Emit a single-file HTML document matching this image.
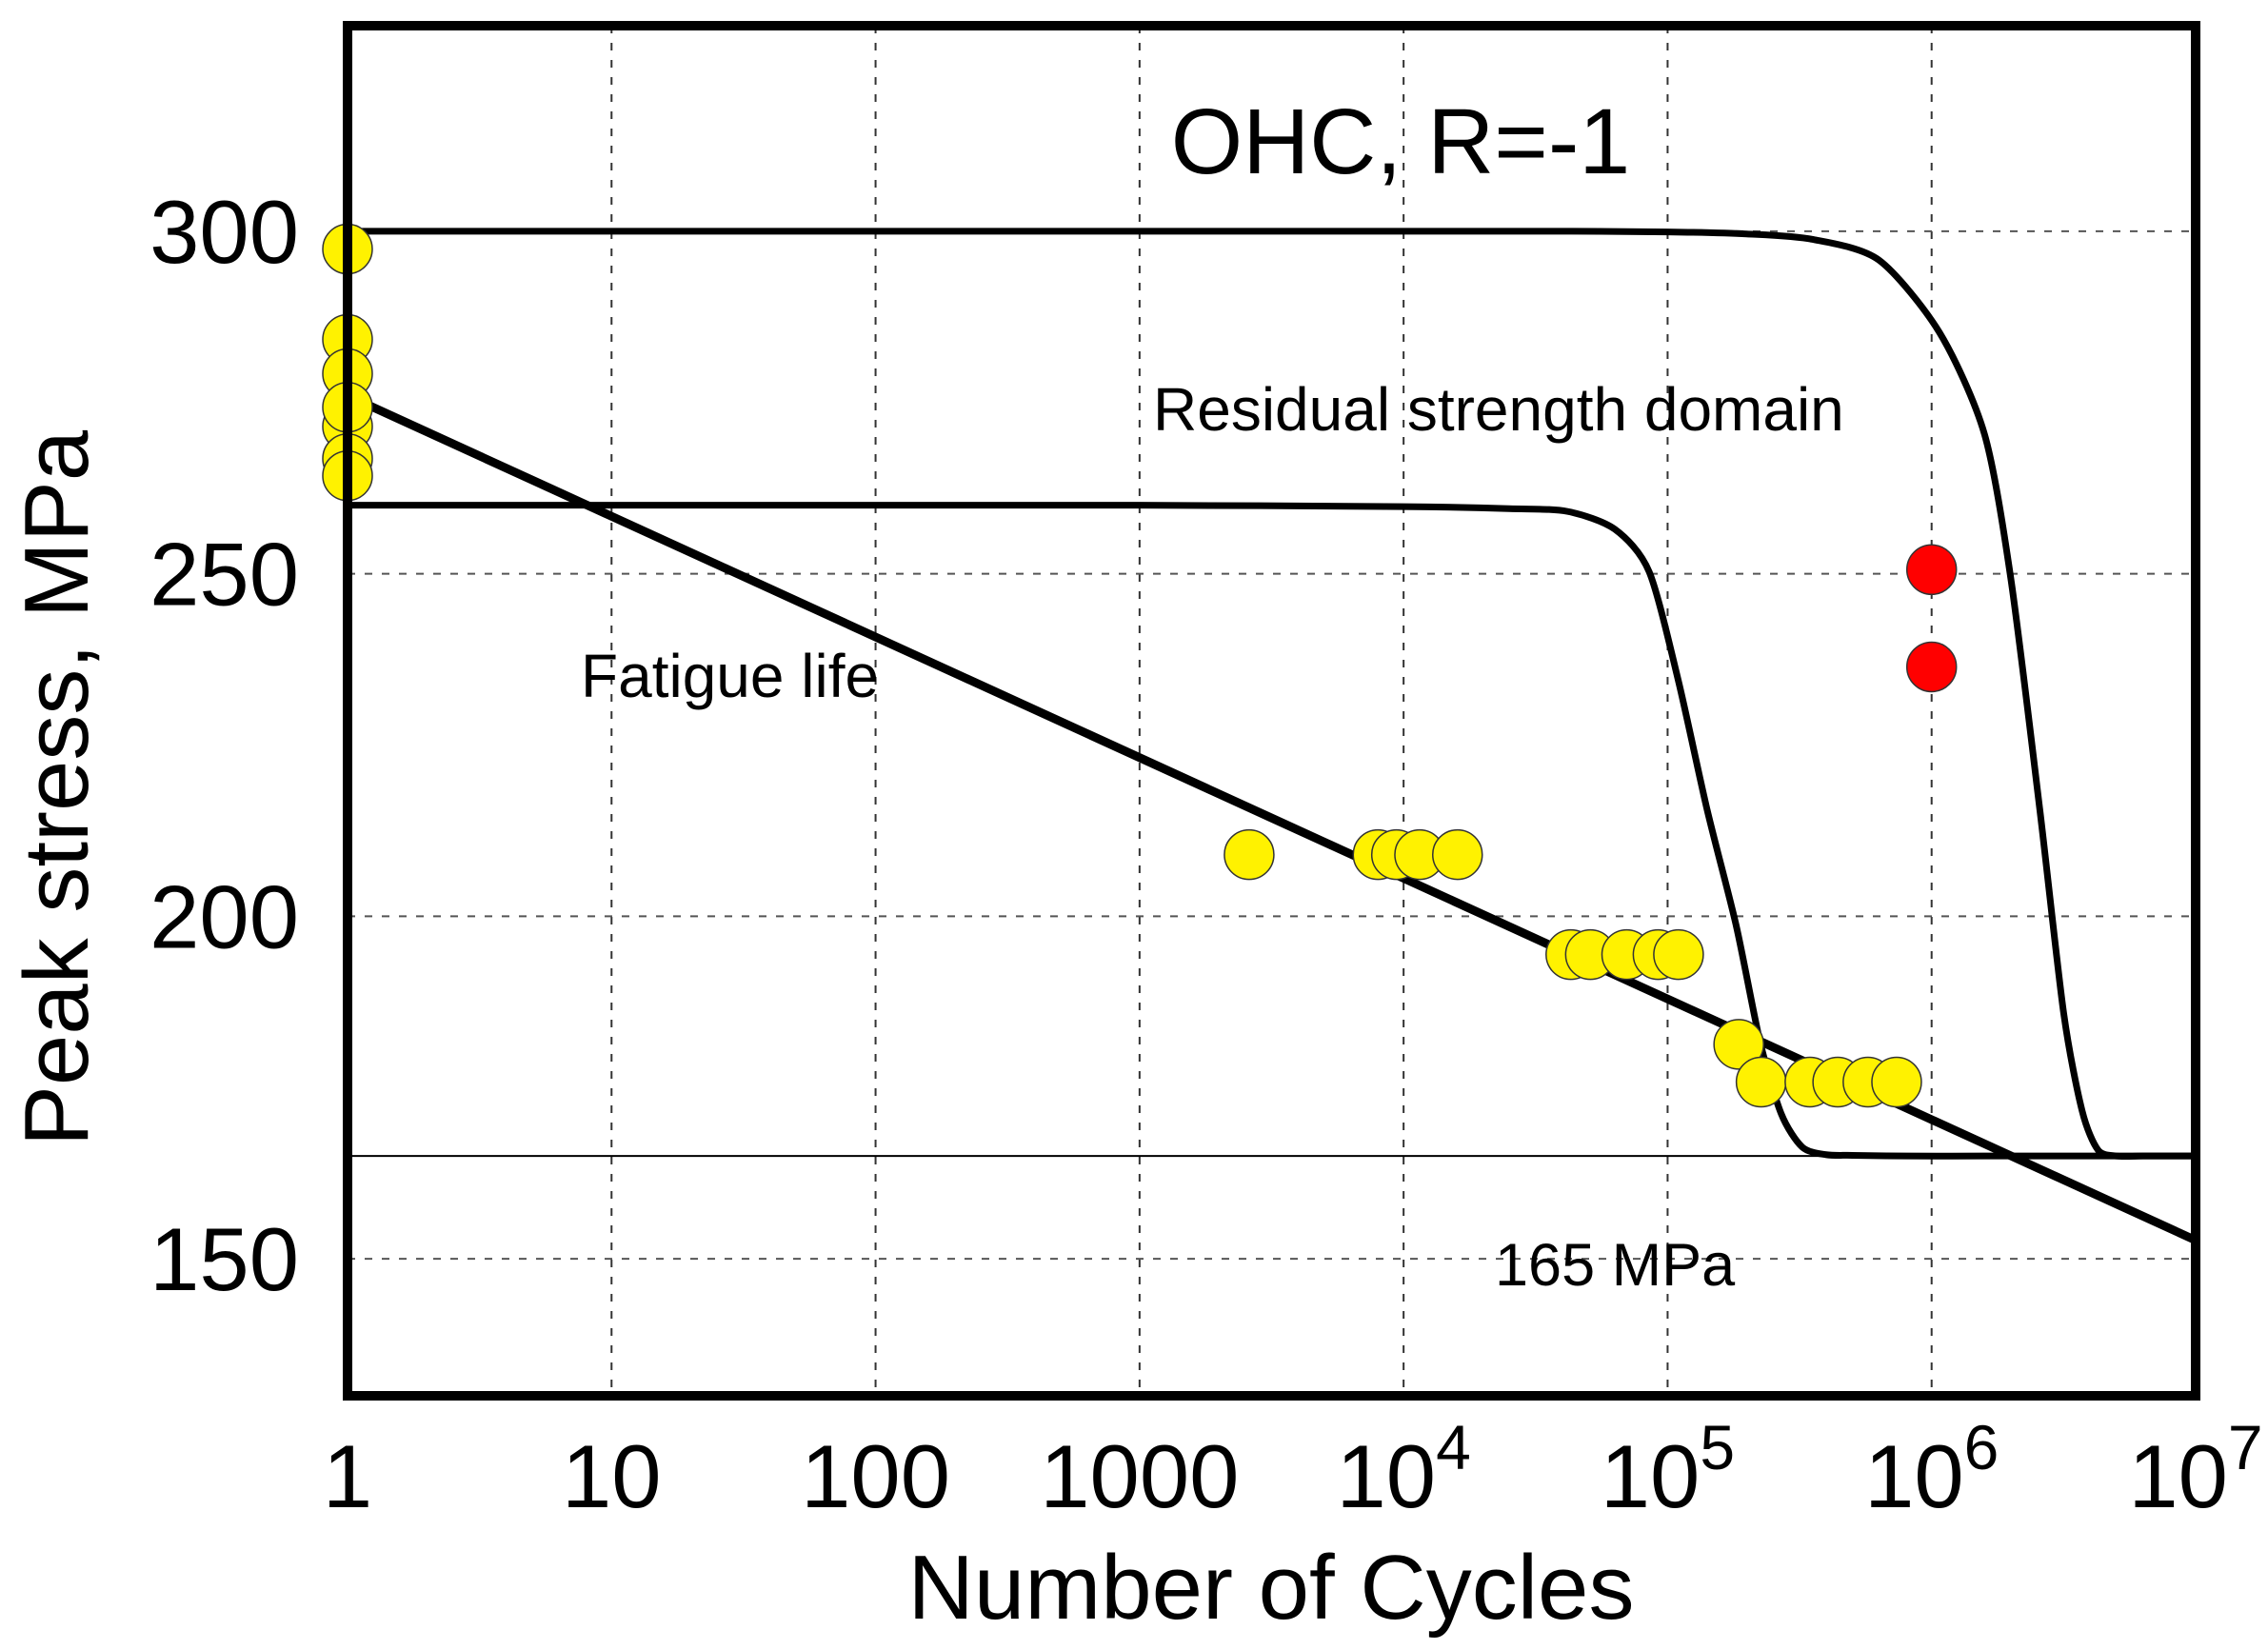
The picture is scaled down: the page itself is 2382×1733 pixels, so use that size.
<!DOCTYPE html>
<html><head><meta charset="utf-8"><style>
html,body{margin:0;padding:0;background:#fff;}
svg{display:block;font-family:"Liberation Sans",Arial,sans-serif;}
</style></head><body>
<svg id="chart" width="2382" height="1733" viewBox="0 0 2382 1733" xmlns="http://www.w3.org/2000/svg"></svg>
<script>
// data
const fatigueLine = [[0, 276], [7, 152.7]]; // [log10 N, MPa]
const residual1 = [[0,260],[1,260],[2,260],[3,260],[4,259.8],[4.4,259.5],[4.62,259.1],[4.8,256.5],[4.93,250.3],[5.04,234.5],[5.15,215.5],[5.26,198.6],[5.35,181.7],[5.43,171.2],[5.51,166.3],[5.6,165.2],[5.7,165.1],[5.9,165],[6.2,165],[6.6,165],[7,165]];
const residual2 = [[0,300],[1,300],[2,300],[3,300],[4,300],[4.6,300],[5.0,299.9],[5.3,299.6],[5.55,298.8],[5.8,295.8],[6.03,285.2],[6.2,270.4],[6.3,249.3],[6.41,215.5],[6.5,185.9],[6.57,171.6],[6.63,165.9],[6.7,165],[6.8,165],[6.9,165],[7,165]];
const yellowN = [1,1,1,1,1,1,1,2600,8000,9400,11500,16000,43000,51000,70000,92000,110000,186000,226000,346000,441000,574000,737000];
const yellowS = [297.4,284.2,279.2,271.5,266.8,264.3,274.3,209,209,209,209,209,194.4,194.4,194.4,194.4,194.4,181.3,175.8,175.8,175.8,175.8,175.8];
const redN = [1e6, 1e6];
const redS = [250.6, 236.4];
const yTicks = [150, 200, 250, 300];
const xTickExp = [0,1,2,3,4,5,6,7];
const xTickLabels = ["1","10","100","1000","10^4","10^5","10^6","10^7"];
const endurance = 165;

const L=365,R=2306,T=27,B=1466;
const xL = lg => L + (lg/7)*(R-L);
const xN = n => xL(Math.log10(n));
const yS = v => T + (330 - v)/200*(B-T);
const NS="http://www.w3.org/2000/svg";
const svg=document.getElementById('chart');
function mk(tag, attrs, parent){const e=document.createElementNS(NS,tag);for(const k in attrs)e.setAttribute(k,attrs[k]);(parent||svg).appendChild(e);return e;}

// grid
xTickExp.forEach((e,i)=>{ if(e>0&&e<7){const g=mk('line',{x1:xL(e),x2:xL(e),y1:T,y2:B,stroke:'#333','stroke-width':2,'stroke-dasharray':'8,10'});

}});
yTicks.forEach(v=>{const g=mk('line',{x1:L,x2:R,y1:yS(v),y2:yS(v),stroke:'#555','stroke-width':2,'stroke-dasharray':'8,10'});

});

// endurance line
const el=mk('line',{x1:L,x2:R,y1:yS(endurance),y2:yS(endurance),stroke:'#000','stroke-width':2});



function smooth(pts){
  const P=pts.map(q=>[xL(q[0]),yS(q[1])]);
  let d='M'+P[0][0]+','+P[0][1];
  for(let i=0;i<P.length-1;i++){
    const p0=P[Math.max(i-1,0)],p1=P[i],p2=P[i+1],p3=P[Math.min(i+2,P.length-1)];
    const t=0.4/3;
    const c1=[p1[0]+(p2[0]-p0[0])*t,p1[1]+(p2[1]-p0[1])*t];
    const c2=[p2[0]-(p3[0]-p1[0])*t,p2[1]-(p3[1]-p1[1])*t];
    d+=' C'+c1[0]+','+c1[1]+' '+c2[0]+','+c2[1]+' '+p2[0]+','+p2[1];
  }
  return d;
}
function curve(pts,name,w){const p=mk('path',{d:smooth(pts),fill:'none',stroke:'#000','stroke-width':w,'stroke-linejoin':'round'});

}
curve(residual1,'residual-strength-curve-260',7);
curve(residual2,'residual-strength-curve-300',7);
curve(fatigueLine,'fatigue-life-line',9);

// points
yellowN.forEach((n,i)=>{const c=mk('circle',{cx:xN(n),cy:yS(yellowS[i]),r:26,fill:'#fff200',stroke:'#333','stroke-width':1.5});

});
redN.forEach((n,i)=>{const c=mk('circle',{cx:xN(n),cy:yS(redS[i]),r:26,fill:'#ff0000',stroke:'#333','stroke-width':1.5});

});

// frame
const fr=mk('rect',{x:L,y:T,width:R-L,height:B-T,fill:'none',stroke:'#000','stroke-width':10});



// y ticks
yTicks.forEach(v=>{const t=mk('text',{x:314,y:yS(v)+33,'font-size':94,'text-anchor':'end',fill:'#000'});t.textContent=v;

});
// x ticks
xTickExp.forEach((e,i)=>{const lab=xTickLabels[i];const t=mk('text',{x:xL(e),y:1583,'font-size':94,'text-anchor':'middle',fill:'#000'});
if(lab.indexOf('^')>=0){const [b,p]=lab.split('^');const a=mk('tspan',{},t);a.textContent=b;const s=mk('tspan',{dy:-40,'font-size':66},t);s.textContent=p;}
else t.textContent=lab;

});

function txt(x,y,s,size,name,extra){const t=mk('text',Object.assign({x:x,y:y,'font-size':size,fill:'#000'},extra||{}));t.textContent=s;

return t;}
txt(1335,1700,'Number of Cycles',96,'x-axis-title',{'text-anchor':'middle'});
txt(0,0,'Peak stress, MPa',96,'y-axis-title',{'text-anchor':'middle',transform:'translate(92,828) rotate(-90)'});
txt(1471,182,'OHC, R=-1',97,'chart-title',{'text-anchor':'middle'});
txt(1211,452,'Residual strength domain',64,'residual-strength-label');
txt(610,732,'Fatigue life',64,'fatigue-life-label');
txt(1570,1350,'165 MPa',63,'endurance-label');
</script>
</body></html>
